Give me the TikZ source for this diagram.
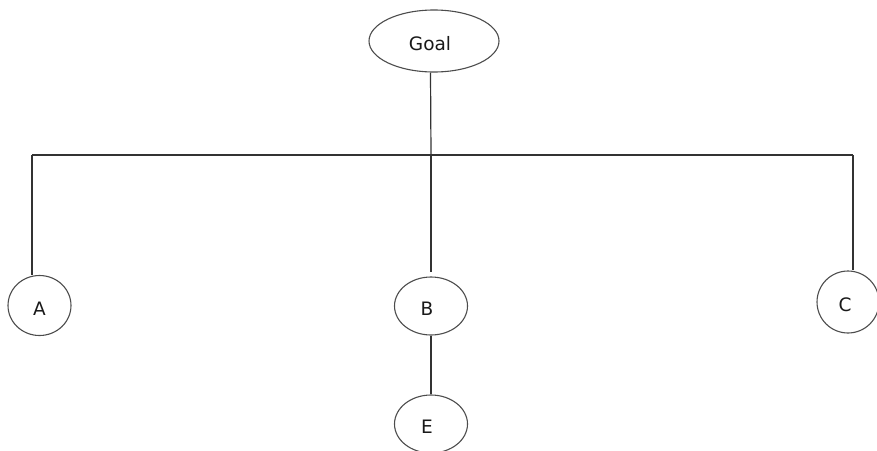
\documentclass[tikz,border=0pt]{standalone}
\usepackage{fontspec}
\setmainfont{DejaVu Sans}
\usetikzlibrary{shapes.geometric}
\newcommand{\shiftedtext}[1]{\raisebox{-9.5pt}[0pt][0pt]{\makebox[0pt]{\hspace{-8pt}#1}}}
\begin{document}
\begin{tikzpicture}[x=1pt,y=-1pt,
  nodeshape/.style={ellipse,draw=black!70,line width=1.1pt,inner sep=0pt,
    font=\fontsize{18.5}{21}\selectfont,text=black!90},
  link/.style={draw=black!80,line width=1.2pt}]
\useasboundingbox (0,0) rectangle (877,450);
\node[nodeshape,minimum width=130,minimum height=62] (Goal) at (434,41) {\shiftedtext{Goal}};
\node[nodeshape,minimum width=63,minimum height=60] (A) at (39.5,305.5) {\shiftedtext{\hspace{8pt}A}};
\node[nodeshape,minimum width=73,minimum height=58] (B) at (431,306) {\shiftedtext{B}};
\node[nodeshape,minimum width=62,minimum height=62] (C) at (848,302) {\shiftedtext{\hspace{2pt}C}};
\node[nodeshape,minimum width=73,minimum height=58] (E) at (431,424) {\shiftedtext{E}};
\coordinate (j) at (431,155);
\coordinate (la) at (32,155);
\coordinate (lc) at (853,155);
\draw[link] ([xshift=-3.5pt]Goal.south) -- (j);
\draw[link] (la) -- (lc);
\draw[link] (la) -- (la |- A.north);
\draw[link] (lc) -- (lc |- C.north);
\draw[link] (j) -- ([yshift=4pt]B.north);
\draw[link] (B.south) -- (E.north);
\end{tikzpicture}
\end{document}
